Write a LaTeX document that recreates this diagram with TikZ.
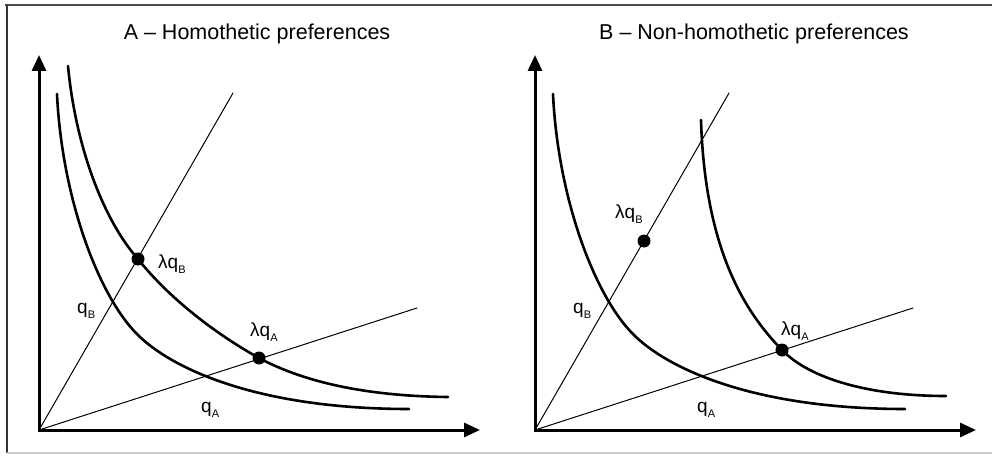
\documentclass[tikz,border=0pt]{standalone}
\usepackage{fontspec}
\setmainfont{Liberation Sans}
\usetikzlibrary{arrows.meta}
\tikzset{
  every picture/.style={line join=round, line cap=round},
  axis/.style={line width=3pt, line cap=butt, line join=miter, {Triangle[length=16pt,width=14pt]}-{Triangle[length=16pt,width=14pt]}},
  ray/.style={line width=1pt},
  indiff/.style={line width=2.6pt},
  dot/.style={circle, fill=black, inner sep=0pt, minimum size=13pt},
  lab/.style={anchor=base west, inner sep=0pt, font=\fontsize{19}{19}\selectfont},
  title/.style={anchor=base, inner sep=0pt, font=\fontsize{21.5}{22}\selectfont},
}
\newcommand{\subl}[1]{\raisebox{-5pt}{\fontsize{11}{11}\selectfont #1}}

\begin{document}
\begin{tikzpicture}[x=1pt,y=-1pt]
\useasboundingbox (0,0) rectangle (992,457);
% frame
\draw[line width=2pt, black!70, line cap=butt] (5,5)--(992,5);
\draw[line width=1.5pt, black!80, line cap=butt] (7,5)--(7,453);
\draw[line width=2pt, black!20, line cap=butt] (7,453)--(992,453);

% panel A
\coordinate (OA) at (39,430);
\coordinate (yA) at (39,55);
\coordinate (xA) at (480,430);
\coordinate (rA1) at (233,93);
\coordinate (rA2) at (417,308);
\draw[axis] (yA)--(OA)--(xA);
\draw[ray] (OA)--(rA1);
\draw[ray] (OA)--(rA2);
\draw[indiff] (57,94) .. controls (62,200) and (100,300) .. (140,337)
  .. controls (175,370) and (260,409) .. (409,409);
\draw[indiff] (68,66) .. controls (76,150) and (105,222) .. (138,259)
  .. controls (168,297) and (214,333) .. (259,358)
  .. controls (300,380) and (360,396) .. (448,397);
\node[dot] (dAB) at (138,259) {};
\node[dot] (dAA) at (259,358) {};
\node[title] (tA) at (257,40) {A – Homothetic preferences};
\node[lab] (lAB) at (158,268) {λq\subl{B}};
\node[lab] (qAB) at (77,313) {q\subl{B}};
\node[lab] (lAA) at (250,336) {λq\subl{A}};
\node[lab] (qAA) at (201,412) {q\subl{A}};

% panel B
\coordinate (OB) at (535,430);
\coordinate (yB) at (535,55);
\coordinate (xB) at (976,430);
\coordinate (rB1) at (729,93);
\coordinate (rB2) at (913,308);
\draw[axis] (yB)--(OB)--(xB);
\draw[ray] (OB)--(rB1);
\draw[ray] (OB)--(rB2);
\draw[indiff] (553,94) .. controls (558,200) and (596,300) .. (636,337)
  .. controls (671,370) and (756,409) .. (905,409);
\draw[indiff] (701,120) .. controls (705,250) and (745,312) .. (782,350)
  .. controls (810,379) and (870,396) .. (946,396);
\node[dot] (dBB) at (644,241) {};
\node[dot] (dBA) at (782,350) {};
\node[title] (tB) at (754,40) {B – Non-homothetic preferences};
\node[lab] (lBB) at (615,218) {λq\subl{B}};
\node[lab] (qBB) at (573,313) {q\subl{B}};
\node[lab] (lBA) at (781,335) {λq\subl{A}};
\node[lab] (qBA) at (697,412) {q\subl{A}};
\end{tikzpicture}
\end{document}
